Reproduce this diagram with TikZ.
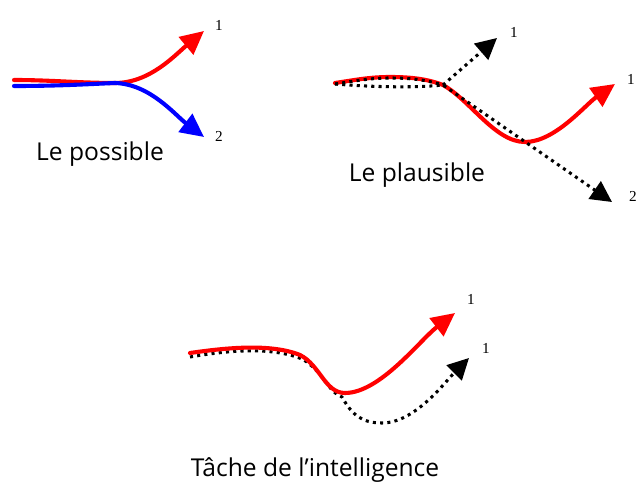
\documentclass[tikz,border=0pt]{standalone}
\usepackage{fontspec}
\setmainfont{Open Sans}
\newfontfamily\digitfont{Liberation Serif}
\usetikzlibrary{arrows.meta}
\tikzset{
  track/.style={line width=3.5pt, line cap=round, -{Triangle[length=20pt,width=19pt]}},
  redtrack/.style={track, draw=red},
  bluetrack/.style={track, draw=blue},
  dottrack/.style={line width=2.6pt, dash pattern=on 2.6pt off 3.6pt, -{Triangle[length=18pt,width=18pt]}},
  caption/.style={font=\fontsize{21}{25}\selectfont, inner sep=0pt},
  branch/.style={font=\digitfont\fontsize{13}{15}\selectfont, inner sep=0pt}
}
\begin{document}
\begin{tikzpicture}[x=0.03cm, y=-0.03cm]
\useasboundingbox (0,0) rectangle (636,489);

% le possible
\begin{scope}
    \coordinate (posA) at (14,80);
    \coordinate (posB) at (14,86);
    \coordinate (posJ) at (115,83);
    \coordinate (pos1) at (204,31);
    \coordinate (pos2) at (204,137);
    \draw[redtrack] (posA) .. controls (50,80) and (80,83) .. (posJ)
        .. controls (150,83) and (175,55) .. (pos1);
    \draw[bluetrack] (posB) .. controls (60,86) and (90,84) .. (posJ)
        .. controls (150,84) and (175,115) .. (pos2);
    \node[branch] (pos1lbl) at (219,25) {1};
    \node[branch] (pos2lbl) at (219,136) {2};
    \node[caption] (poscap) at (100,154) {Le possible};
\end{scope}

% le plausible
\begin{scope}
    \coordinate (plA) at (335,83);
    \coordinate (plB) at (335,84);
    \coordinate (plJ) at (443,85);
    \coordinate (pl1r) at (615,84);
    \coordinate (pl1d) at (497,38);
    \coordinate (pl2d) at (612,202);
    \draw[redtrack] (plA) .. controls (355,80) and (370,77) .. (390,77)
        .. controls (415,77) and (430,80) .. (443,85)
        .. controls (470,100) and (495,142) .. (525,142)
        .. controls (555,142) and (585,105) .. (pl1r);
    \draw[dottrack] (plB) .. controls (355,81) and (370,78) .. (390,78)
        .. controls (415,78) and (430,81) .. (plJ) -- (pl1d);
    \draw[dottrack] (plB) .. controls (370,87) and (415,88) .. (plJ) -- (pl2d);
    \node[branch] (pl1dlbl) at (514,32) {1};
    \node[branch] (pl1rlbl) at (631,79) {1};
    \node[branch] (pl2dlbl) at (633,196) {2};
    \node[caption] (plcap) at (417,175) {Le plausible};
\end{scope}

% tache de l'intelligence
\begin{scope}
    \coordinate (itA) at (190,353);
    \coordinate (itB) at (190,357);
    \coordinate (it1r) at (455,313);
    \coordinate (it1d) at (469,358);
    \draw[dottrack] (itB) .. controls (225,351) and (270,346) .. (302,359)
        .. controls (322,370) and (328,392) .. (342,397)
        .. controls (352,415) and (362,423) .. (382,423)
        .. controls (415,423) and (445,382) .. (it1d);
    \draw[redtrack] (itA) .. controls (225,348) and (270,343) .. (300,355)
        .. controls (320,365) and (325,393) .. (345,393)
        .. controls (380,393) and (420,340) .. (it1r);
    \node[branch] (it1rlbl) at (471,299) {1};
    \node[branch] (it1dlbl) at (486,348) {1};
    \node[caption] (itcap) at (315,470) {Tâche de l'intelligence};
\end{scope}
\end{tikzpicture}
\end{document}
